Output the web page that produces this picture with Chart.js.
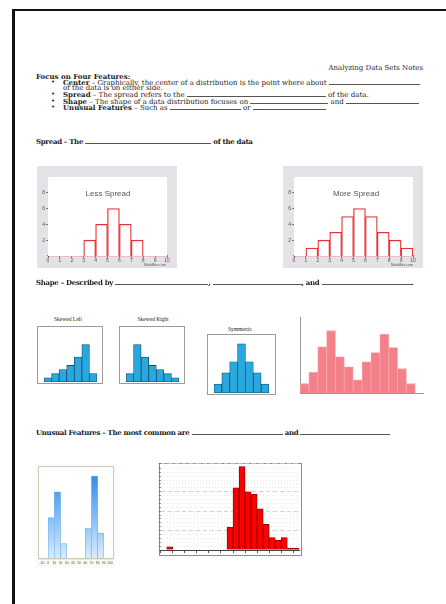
<!DOCTYPE html>
<html>
<head>
<meta charset="utf-8">
<title>Analyzing Data Sets Notes</title>
<script src="https://cdn.jsdelivr.net/npm/chart.js@4.4.1/dist/chart.umd.min.js"></script>
<style>
html, body { margin: 0; padding: 0; background: #fff; }
#page { position: relative; width: 446px; height: 604px; overflow: hidden; font-family: "DejaVu Serif", serif; font-size: 7px; color: #222; }
.edge-top { position: absolute; left: 12px; top: 9px; right: 0; height: 2px; background: #111; }
.edge-left { position: absolute; left: 12px; top: 9px; width: 3px; bottom: 0; background: #111; }
.ln { position: absolute; white-space: nowrap; line-height: 7px; }
.bul { position: absolute; left: 51px; line-height: 7px; }
.b { font-weight: bold; }
.hd { letter-spacing: -0.3px; }
.blank { display: inline-block; height: 1px; border-bottom: 0.7px solid #555; letter-spacing: 0; }
.cap { position: absolute; white-space: nowrap; transform: translate(-50%, -50%); }
.sans { font-family: "Liberation Sans", Arial, sans-serif; color: #555; }
.tiny { font-family: "Liberation Serif", serif; font-size: 5.5px; color: #222; }
.box { position: absolute; box-sizing: border-box; border: 1px solid #9c9c9c; background: #fff; }
canvas { position: absolute; }
</style>
</head>
<body>
<div id="page">
  <div class="edge-top"></div>
  <div class="edge-left"></div>

  <div class="ln" style="right:23px; top:64.5px;">Analyzing Data Sets Notes</div>
  <div class="ln b" style="left:36px; top:72.5px;">Focus on Four Features:</div>

  <div class="bul" style="top:78.5px;">&#8226;</div>
  <div class="ln" style="left:63px; top:78.5px;"><span class="b">Center</span> &ndash; Graphically, the center of a distribution is the point where about <span class="blank" style="width:91px"></span></div>
  <div class="ln" style="left:63px; top:84.8px;">of the data is on either side.</div>
  <div class="bul" style="top:91px;">&#8226;</div>
  <div class="ln" style="left:63px; top:91px;"><span class="b">Spread</span> &ndash; The spread refers to the <span class="blank" style="width:139px"></span> of the data.</div>
  <div class="bul" style="top:97.5px;">&#8226;</div>
  <div class="ln" style="left:63px; top:97.5px;"><span class="b">Shape</span> &ndash; The shape of a data distribution focuses on <span class="blank" style="width:78px"></span> and <span class="blank" style="width:73px"></span></div>
  <div class="bul" style="top:103.8px;">&#8226;</div>
  <div class="ln" style="left:63px; top:103.8px;"><span class="b">Unusual Features</span> &ndash; Such as <span class="blank" style="width:71px"></span> or <span class="blank" style="width:73px"></span></div>

  <div class="ln b hd" style="left:36px; top:137.5px;">Spread &ndash; The <span class="blank" style="width:126px"></span> of the data</div>

  <canvas id="lessSpread" width="140" height="102" style="left:37px; top:166px; background:#e5e2e7;"></canvas>
  <canvas id="moreSpread" width="140" height="102" style="left:283px; top:166px; background:#e5e2e7;"></canvas>
  <div class="cap sans" style="left:108px; top:193px; font-size:8px;">Less Spread</div>
  <div class="cap sans" style="left:356px; top:193px; font-size:8px;">More Spread</div>
  <div class="cap sans" style="left:155px; top:265px; font-size:3.6px;">MathBits.com</div>
  <div class="cap sans" style="left:402px; top:265px; font-size:3.6px;">MathBits.com</div>

  <div class="ln b hd" style="left:36px; top:278.5px;">Shape &ndash; Described by <span class="blank" style="width:93px"></span>, <span class="blank" style="width:89px"></span>, and <span class="blank" style="width:90px"></span>.</div>

  <div class="cap tiny" style="left:68px; top:319px;">Skewed Left</div>
  <div class="cap tiny" style="left:153px; top:319px;">Skewed Right</div>
  <div class="cap tiny" style="left:240px; top:329px;">Symmetric</div>
  <div class="box" style="left:37px; top:326px; width:66px; height:58px;"></div>
  <div class="box" style="left:119px; top:326px; width:66px; height:58px;"></div>
  <div class="box" style="left:207px; top:334px; width:69px; height:61px;"></div>
  <canvas id="skewLeft" width="66" height="57" style="left:37px; top:326px;"></canvas>
  <canvas id="skewRight" width="66" height="57" style="left:119px; top:326px;"></canvas>
  <canvas id="symmetric" width="69" height="60" style="left:207px; top:334px;"></canvas>
  <canvas id="bimodal" width="130" height="82" style="left:296px; top:314px;"></canvas>

  <div class="ln b hd" style="left:36px; top:428.5px;">Unusual Features &ndash; The most common are <span class="blank" style="width:91px"></span> and <span class="blank" style="width:90px"></span></div>

  <canvas id="gaps" width="80" height="104" style="left:36px; top:464px; background:#fcfaf4;"></canvas>
  <div class="box" style="left:159px; top:463px; width:143px; height:93px; border-color:#8c8c8c;"></div>
  <canvas id="outlier" width="152" height="98" style="left:152px; top:460px;"></canvas>
</div>

<script>
// spread histograms (bins start at 0..9)
var spreadBins = [0, 1, 2, 3, 4, 5, 6, 7, 8, 9];
var lessSpread = [0, 0, 0, 2, 4, 6, 4, 2, 0, 0];
var moreSpread = [0, 1, 2, 3, 5, 6, 5, 3, 2, 1];
var spreadXTicks = [0, 1, 2, 3, 4, 5, 6, 7, 8, 9, 10];
var spreadYTicks = [2, 4, 6, 8];

// shape examples
var shapeBins = ['1', '2', '3', '4', '5', '6', '7'];
var skewedLeft = [1, 2, 3, 4, 6, 9, 2];
var skewedRight = [2, 9, 6, 4, 3, 2, 1];
var symmetricCounts = [2, 4.5, 7, 11, 7, 4.5, 2];
var bimodalCounts = [1.5, 3.3, 7.4, 10, 5.8, 4.2, 2.1, 5, 6.5, 9.4, 7.3, 3.9, 1.5];

// gap example (bins of width 10)
var gapBins = [-10, 0, 10, 20, 30, 40, 50, 60, 70, 80, 90];
var gapCounts = [0, 4, 6.5, 1.5, 0, 0, 0, 3, 8, 2.5, 0];
var gapTicks = [-10, 0, 10, 20, 30, 40, 50, 60, 70, 80, 90, 100];

// outlier example (23 bins)
var outlierCounts = [0, 0.8, 0, 0, 0, 0, 0, 0, 0, 0, 0, 5.9, 16, 21.5, 15, 14.4, 10.6, 6.6, 3.2, 2.5, 3.2, 0.4, 0.4];
var outlierXTicks = [0, 2, 4, 6, 8, 10, 12, 14, 16, 18, 20, 22];

var areaPlugin = {
    id: 'area',
    beforeDatasetsDraw: function (chart, args, opts) {
        var a = chart.chartArea;
        if (opts.fill) {
            chart.ctx.save();
            chart.ctx.fillStyle = opts.fill;
            chart.ctx.fillRect(a.left, a.top, a.width, a.height);
            chart.ctx.restore();
        }
    },
    afterDraw: function (chart, args, opts) {
        var a = chart.chartArea;
        if (opts.stroke) {
            chart.ctx.save();
            chart.ctx.strokeStyle = opts.stroke;
            chart.ctx.lineWidth = 1;
            chart.ctx.strokeRect(a.left + 0.5, a.top + 0.5, a.width - 1, a.height - 1);
            chart.ctx.restore();
        }
    }
};

function setTicks(list) {
    return function (s) {
        s.ticks = list.map(function (v) { return {value: v}; });
    };
}

function centers(bins, values, w) {
    return bins.map(function (b, i) { return {x: b + w / 2, y: values[i]}; });
}

function spreadChart(id, values) {
    return new Chart(document.getElementById(id), {
        type: 'bar',
        data: {
            datasets: [{
                data: centers(spreadBins, values, 1),
                backgroundColor: '#ffffff',
                borderColor: '#e8323a',
                borderWidth: 1.3,
                barPercentage: 1,
                categoryPercentage: 1
            }]
        },
        options: {
            responsive: false,
            animation: false,
            layout: {padding: {top: 11, right: 10, left: 0, bottom: 0}},
            plugins: {legend: {display: false}, tooltip: {enabled: false}, area: {fill: '#ffffff'}},
            scales: {
                x: {
                    type: 'linear', min: 0, max: 10, offset: false,
                    afterBuildTicks: setTicks(spreadXTicks),
                    afterFit: function (s) { s.height = 12; },
                    grid: {drawOnChartArea: false, offset: false, tickLength: 2, color: '#777'},
                    border: {color: '#ef5a60', width: 1.2},
                    ticks: {font: {size: 5, family: 'Liberation Sans'}, color: '#555', padding: 0, maxRotation: 0, autoSkip: false}
                },
                y: {
                    min: 0, max: 10,
                    afterBuildTicks: setTicks(spreadYTicks),
                    afterFit: function (s) { s.width = 11; },
                    grid: {drawOnChartArea: false, tickLength: 2, color: '#777'},
                    border: {color: '#555', width: 1},
                    ticks: {font: {size: 5, family: 'Liberation Sans'}, color: '#555', padding: 1}
                }
            }
        },
        plugins: [areaPlugin]
    });
}

function shapeChart(id, values, max, pad) {
    return new Chart(document.getElementById(id), {
        type: 'bar',
        data: {
            labels: shapeBins,
            datasets: [{
                data: values,
                backgroundColor: '#29a8e0',
                borderColor: '#1c4e6b',
                borderWidth: 0.8,
                borderSkipped: false,
                barPercentage: 1,
                categoryPercentage: 1
            }]
        },
        options: {
            responsive: false,
            animation: false,
            layout: {padding: pad},
            plugins: {legend: {display: false}, tooltip: {enabled: false}},
            scales: {
                x: {display: false},
                y: {display: false, min: 0, max: max}
            }
        }
    });
}

spreadChart('lessSpread', lessSpread);
spreadChart('moreSpread', moreSpread);

shapeChart('skewLeft', skewedLeft, 13.5, {left: 7, right: 6, top: 0, bottom: 1});
shapeChart('skewRight', skewedRight, 13.5, {left: 7, right: 6, top: 0, bottom: 1});
shapeChart('symmetric', symmetricCounts, 13.2, {left: 7, right: 7, top: 0, bottom: 1});

new Chart(document.getElementById('bimodal'), {
    type: 'bar',
    data: {
        datasets: [{
            data: centers(bimodalCounts.map(function (v, i) { return i; }), bimodalCounts, 1),
            backgroundColor: '#f4808a',
            borderColor: '#f5a2a8',
            borderWidth: 0.8,
            barPercentage: 1,
            categoryPercentage: 1
        }]
    },
    options: {
        responsive: false,
        animation: false,
        layout: {padding: {left: 4, top: 3, right: 3, bottom: 3}},
        plugins: {legend: {display: false}, tooltip: {enabled: false}},
        scales: {
            x: {
                type: 'linear', min: 0, max: 13.87, offset: false,
                afterFit: function (s) { s.height = 0; },
                ticks: {display: false}, grid: {display: false},
                border: {color: '#999', width: 1}
            },
            y: {
                min: 0, max: 12.2,
                afterFit: function (s) { s.width = 0; },
                ticks: {display: false}, grid: {display: false},
                border: {color: '#999', width: 1}
            }
        }
    }
});

new Chart(document.getElementById('gaps'), {
    type: 'bar',
    data: {
        datasets: [{
            data: centers(gapBins, gapCounts, 10),
            backgroundColor: function (c) {
                var a = c.chart.chartArea;
                if (!a) return '#7ab8f0';
                var g = c.chart.ctx.createLinearGradient(0, a.top, 0, a.bottom);
                g.addColorStop(0, '#1a84ea');
                g.addColorStop(1, '#dcedfc');
                return g;
            },
            borderColor: '#6fb0ea',
            borderWidth: 0.6,
            barPercentage: 1,
            categoryPercentage: 1
        }]
    },
    options: {
        responsive: false,
        animation: false,
        layout: {padding: {left: 2, top: 2, right: 2, bottom: 0}},
        plugins: {legend: {display: false}, tooltip: {enabled: false}, area: {fill: '#ffffff', stroke: '#cfcabd'}},
        scales: {
            x: {
                type: 'linear', min: -16.5, max: 106.5, offset: false,
                afterBuildTicks: setTicks(gapTicks),
                afterFit: function (s) { s.height = 9; },
                grid: {drawOnChartArea: false, offset: false, tickLength: 1, color: '#ccc'},
                border: {display: false},
                ticks: {font: {size: 3.4, family: 'Liberation Sans'}, color: '#555', padding: 1, maxRotation: 0, autoSkip: false}
            },
            y: {
                min: 0, max: 9,
                ticks: {display: false, stepSize: 1},
                afterFit: function (s) { s.width = 0; },
                grid: {color: '#e6e6e6', drawTicks: false},
                border: {display: false}
            }
        }
    },
    plugins: [areaPlugin]
});

new Chart(document.getElementById('outlier'), {
    type: 'bar',
    data: {
        datasets: [{
            data: centers(outlierCounts.map(function (v, i) { return i; }), outlierCounts, 1),
            backgroundColor: '#ff0000',
            borderColor: '#6e0000',
            borderWidth: 0.8,
            barPercentage: 1,
            categoryPercentage: 1
        }]
    },
    options: {
        responsive: false,
        animation: false,
        layout: {padding: {left: 0, top: 3, right: 4.7, bottom: 3}},
        plugins: {legend: {display: false}, tooltip: {enabled: false}},
        scales: {
            x: {
                type: 'linear', min: 0, max: 23, offset: false,
                afterBuildTicks: setTicks(outlierXTicks),
                afterFit: function (s) { s.height = 5; },
                ticks: {display: false},
                grid: {drawOnChartArea: false, offset: false, tickLength: 3, color: '#555'},
                border: {color: '#444', width: 1}
            },
            y: {
                min: 0, max: 22.4,
                ticks: {display: false, stepSize: 5},
                afterFit: function (s) { s.width = 0; },
                grid: {color: '#c8c8c8', drawTicks: false, lineWidth: 0.8},
                border: {display: false, dash: [4, 3]}
            },
            y2: {
                position: 'left',
                min: 0, max: 22.4,
                ticks: {display: false, stepSize: 1},
                afterFit: function (s) { s.width = 8.7; },
                grid: {color: '#d8d8d8', tickLength: 2, tickColor: '#555', lineWidth: 0.6},
                border: {display: false, dash: [1, 2]}
            }
        }
    }
});
</script>
</body>
</html>
